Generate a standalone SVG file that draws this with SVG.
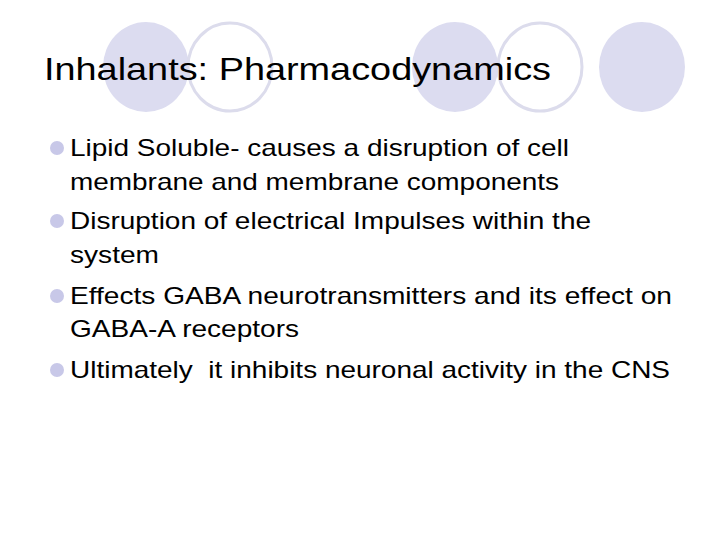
<svg xmlns="http://www.w3.org/2000/svg" width="720" height="540" viewBox="0 0 720 540">
<style>
.f{fill:#dcdcf0}
.o{fill:#fff;stroke:#dcdcec;stroke-width:3}
.t{font-family:"Liberation Sans",Arial,sans-serif;fill:#000}
.b{fill:#c8c8e8}
</style>
<rect width="720" height="540" fill="#fff"/>
<g id="decor">
<ellipse class="f" cx="146" cy="67" rx="43" ry="45"/>
<ellipse class="o" cx="230" cy="67" rx="42" ry="44"/>
<ellipse class="f" cx="455" cy="67" rx="43" ry="45"/>
<ellipse class="o" cx="540" cy="67" rx="42" ry="44"/>
<ellipse class="f" cx="642" cy="67" rx="43" ry="45"/>
</g>
<text id="title" class="t" x="44" y="80" font-size="32" textLength="507" lengthAdjust="spacingAndGlyphs">Inhalants: Pharmacodynamics</text>
<g id="bullets" class="t" font-size="24">
<circle class="b" cx="57" cy="148" r="7"/>
<text x="70" y="156" textLength="499" lengthAdjust="spacingAndGlyphs">Lipid Soluble- causes a disruption of cell</text>
<text x="70" y="190" textLength="489" lengthAdjust="spacingAndGlyphs">membrane and membrane components</text>
<circle class="b" cx="57" cy="221" r="7"/>
<text x="70" y="229" textLength="521" lengthAdjust="spacingAndGlyphs">Disruption of electrical Impulses within the</text>
<text x="70" y="263" textLength="89" lengthAdjust="spacingAndGlyphs">system</text>
<circle class="b" cx="57" cy="296" r="7"/>
<text x="70" y="304" textLength="602" lengthAdjust="spacingAndGlyphs">Effects GABA neurotransmitters and its effect on</text>
<text x="70" y="337" textLength="229" lengthAdjust="spacingAndGlyphs">GABA-A receptors</text>
<circle class="b" cx="57" cy="370" r="7"/>
<text x="70" y="378" xml:space="preserve" textLength="600" lengthAdjust="spacingAndGlyphs">Ultimately  it inhibits neuronal activity in the CNS</text>
</g>
</svg>
